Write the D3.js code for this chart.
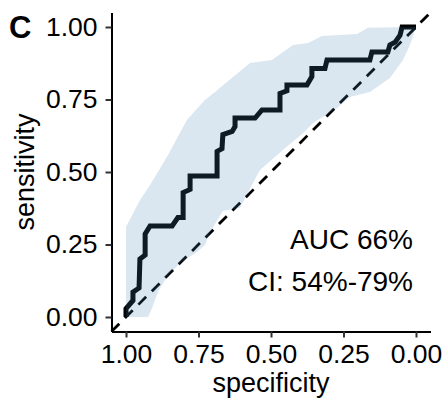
<!DOCTYPE html>
<html>
<head>
<meta charset="utf-8">
<script src="https://cdn.jsdelivr.net/npm/d3@7"></script>
<style>
  body { margin: 0; background: #fff; }
  text { font-family: "Liberation Sans", Arial, sans-serif; }
</style>
</head>
<body>
<div id="roc-graph"></div>
<script>
// ROC curve (specificity, sensitivity)
var rocSpec = [1.000, 1.000, 0.976, 0.976, 0.955, 0.952, 0.934, 0.934, 0.917, 0.841, 0.821, 0.803,
               0.803, 0.779, 0.779, 0.686, 0.686, 0.669, 0.666, 0.634, 0.624, 0.624, 0.555, 0.531,
               0.469, 0.469, 0.445, 0.445, 0.376, 0.359, 0.359, 0.314, 0.307, 0.159, 0.152, 0.097,
               0.090, 0.072, 0.055, 0.048, 0.000];
var rocSens = [0.000, 0.029, 0.057, 0.086, 0.100, 0.200, 0.214, 0.286, 0.314, 0.314, 0.343, 0.343,
               0.429, 0.440, 0.486, 0.486, 0.571, 0.580, 0.629, 0.640, 0.657, 0.686, 0.686, 0.714,
               0.714, 0.771, 0.780, 0.800, 0.800, 0.829, 0.857, 0.857, 0.886, 0.886, 0.914, 0.914,
               0.938, 0.948, 0.972, 1.000, 1.000];

// confidence band, upper edge
var ciHiSpec = [1.000, 1.000, 0.952, 0.917, 0.890, 0.855, 0.790, 0.728, 0.693, 0.631, 0.572,
                0.497, 0.424, 0.372, 0.324, 0.203, 0.166, 0.000];
var ciHiSens = [0.000, 0.310, 0.403, 0.455, 0.500, 0.559, 0.679, 0.748, 0.776, 0.828, 0.876,
                0.886, 0.938, 0.945, 0.969, 0.976, 0.997, 1.000];
// confidence band, lower edge
var ciLoSpec = [1.000, 0.924, 0.910, 0.890, 0.859, 0.814, 0.755, 0.728, 0.710, 0.666, 0.607, 0.562,
                0.538, 0.459, 0.390, 0.355, 0.272, 0.228, 0.159, 0.090, 0.045, 0.021, 0.000];
var ciLoSens = [0.000, 0.000, 0.031, 0.086, 0.138, 0.186, 0.224, 0.248, 0.293, 0.366, 0.376, 0.462,
                0.507, 0.576, 0.634, 0.669, 0.721, 0.759, 0.776, 0.824, 0.886, 0.938, 1.000];

var tickVals = [1.00, 0.75, 0.50, 0.25, 0.00];
var aucLabel = "AUC 66%";
var ciLabel = "CI: 54%-79%";
var panelTag = "C";

var W = 445, H = 404;
var svg = d3.select("#roc-graph").append("svg")
    .attr("width", W)
    .attr("height", H);

var x = d3.scaleLinear().domain([1.05, -0.05]).range([111.5, 430.5]);
var y = d3.scaleLinear().domain([-0.05, 1.05]).range([331.5, 12.5]);

var roc = rocSpec.map(function(d, i) { return [d, rocSens[i]]; });
var band = ciHiSpec.map(function(d, i) { return [d, ciHiSens[i]]; })
    .concat(ciLoSpec.map(function(d, i) { return [d, ciLoSens[i]]; }).reverse());

var line = d3.line()
    .x(function(d) { return x(d[0]); })
    .y(function(d) { return y(d[1]); });

// roc line
svg.append("path")
    .datum(roc)
    .attr("d", line)
    .attr("fill", "none")
    .attr("stroke", "#000")
    .attr("stroke-width", 5)
    .attr("stroke-linejoin", "miter");

// chance diagonal
svg.append("path")
    .datum([[1.05, -0.05], [-0.05, 1.05]])
    .attr("d", line)
    .attr("stroke", "#000")
    .attr("stroke-width", 2.8)
    .attr("stroke-dasharray", "11,8");

// CI ribbon on top, translucent
svg.append("path")
    .datum(band)
    .attr("d", line.curve(d3.curveLinearClosed))
    .attr("fill", "steelblue")
    .attr("fill-opacity", 0.2)
    .attr("stroke", "none");

// axes
var xAxis = svg.append("g")
    .attr("transform", "translate(0,331.5)")
    .call(d3.axisBottom(x).tickValues(tickVals).tickFormat(d3.format(".2f"))
        .tickSize(6).tickSizeOuter(0).tickPadding(7));
var yAxis = svg.append("g")
    .attr("transform", "translate(111.5,0)")
    .call(d3.axisLeft(y).tickValues(tickVals).tickFormat(d3.format(".2f"))
        .tickSize(6).tickSizeOuter(0).tickPadding(8));

[xAxis, yAxis].forEach(function(g) {
    g.select(".domain").attr("stroke", "#000").attr("stroke-width", 2);
    g.selectAll(".tick line").attr("stroke", "#333").attr("stroke-width", 2);
    g.selectAll(".tick text")
        .attr("fill", "#000")
        .style("font-size", "26.5px")
        .style("font-family", "'Liberation Sans', Arial, sans-serif");
});

// axis titles
svg.append("text")
    .attr("x", 271)
    .attr("y", 392)
    .attr("text-anchor", "middle")
    .style("font-size", "27px")
    .text("specificity");

svg.append("text")
    .attr("transform", "translate(34,172)rotate(-90)")
    .attr("text-anchor", "middle")
    .style("font-size", "27px")
    .text("sensitivity");

// panel tag
svg.append("text")
    .attr("x", 9)
    .attr("y", 38)
    .style("font-size", "31px")
    .style("font-weight", "bold")
    .text(panelTag);

// annotation
svg.append("text")
    .attr("x", 413)
    .attr("y", 249)
    .attr("text-anchor", "end")
    .style("font-size", "28px")
    .text(aucLabel);
svg.append("text")
    .attr("x", 413)
    .attr("y", 291)
    .attr("text-anchor", "end")
    .style("font-size", "28px")
    .text(ciLabel);
</script>
</body>
</html>
